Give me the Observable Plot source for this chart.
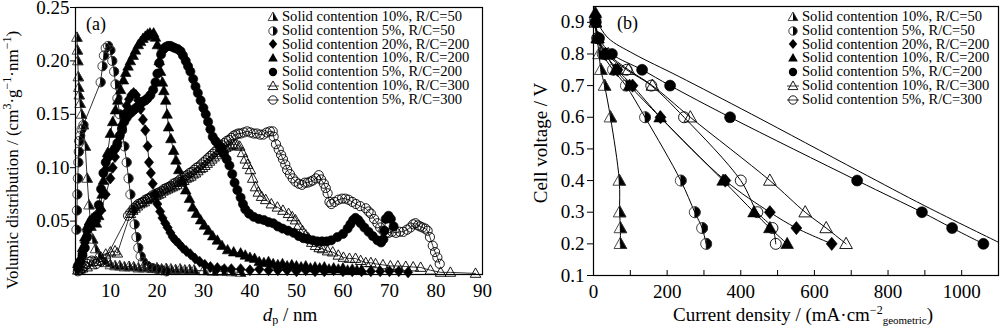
<!DOCTYPE html>
<html>
<head>
<meta charset="utf-8">
<script src="https://cdn.jsdelivr.net/npm/d3@7"></script>
<script src="https://cdn.jsdelivr.net/npm/@observablehq/plot@0.6"></script>
<style>
  html, body { margin: 0; padding: 0; background: #fff; }
  #wrap { position: relative; width: 1000px; height: 326px; overflow: hidden; font-family: "Liberation Serif", "Times New Roman", serif; color: #000; }
  .panel { position: absolute; top: 0; }
  .panel text { font-family: "Liberation Serif", "Times New Roman", serif; }
  .lbl { position: absolute; white-space: nowrap; font-size: 19px; line-height: 1; }
  .lbl sup { font-size: 12px; vertical-align: 7px; }
  .lbl sub { font-size: 12px; vertical-align: -3px; }
  .legend { position: absolute; font-size: 14.6px; line-height: 13.8px; }
  .legend .row { display: flex; align-items: center; height: 13.8px; white-space: nowrap; }
  .legend svg { margin-right: 3px; overflow: visible; }
</style>
</head>
<body>
<div id="wrap"></div>
<script>
// ---------------- DATA ----------------
const seriesNames = [
  "Solid contention 10%, R/C=50",
  "Solid contention 5%, R/C=50",
  "Solid contention 20%, R/C=200",
  "Solid contention 10%, R/C=200",
  "Solid contention 5%, R/C=200",
  "Solid contention 10%, R/C=300",
  "Solid contention 5%, R/C=300"
];

// Panel (a): [dp (nm), volumic distribution]
const distS10RC50 = [[2.8,0.222],[2.9,0.21],[3.0,0.2],[3.1,0.185],[3.2,0.175],[3.3,0.168],[3.5,0.16],[3.8,0.15],[4.2,0.14],[4.6,0.12],[5.0,0.09],[5.4,0.065],[5.8,0.045],[6.2,0.033],[6.8,0.024],[7.5,0.018],[8.3,0.013],[9,0.011],[10,0.009],[11,0.008],[12,0.008],[13,0.007],[14,0.0075],[15,0.007],[16,0.006],[17,0.0065],[18,0.006],[19,0.0055],[20,0.006],[21,0.005],[22,0.0055],[23,0.005],[24,0.0045],[25,0.005],[26,0.004],[27,0.0045],[28,0.004],[30,0.0035],[32,0.003],[34,0.003],[36,0.0025],[38,0.002]];
const distS5RC50 = [[2.7,0.042],[2.8,0.06],[2.9,0.075],[3.0,0.09],[3.1,0.105],[3.2,0.115],[3.3,0.125],[3.5,0.13],[3.8,0.136],[4.2,0.14],[7.9,0.18],[8.3,0.195],[8.6,0.205],[9,0.212],[9.5,0.214],[10,0.21],[10.4,0.2],[10.8,0.19],[11.1,0.178],[11.5,0.165],[12,0.15],[12.5,0.135],[13,0.12],[13.5,0.105],[13.9,0.09],[14.3,0.075],[14.8,0.06],[15.2,0.047],[15.6,0.035],[16,0.025],[16.5,0.017],[17,0.012],[18,0.008],[19,0.006],[20,0.005],[21,0.004],[22,0.003]];
const distS20RC200 = [[3,0.005],[3.5,0.01],[4,0.02],[4.5,0.03],[5,0.04],[5.5,0.045],[6,0.048],[7,0.05],[8,0.06],[9,0.075],[10,0.09],[10.5,0.1],[11,0.11],[11.5,0.12],[12,0.13],[12.5,0.14],[13,0.15],[13.5,0.158],[14,0.164],[14.5,0.168],[15,0.17],[15.5,0.168],[16,0.163],[16.5,0.155],[17,0.145],[17.5,0.135],[18,0.12],[18.3,0.105],[18.7,0.095],[19.1,0.085],[19.6,0.075],[20.1,0.066],[20.7,0.059],[21.2,0.053],[21.8,0.048],[22.3,0.044],[22.9,0.039],[23.4,0.035],[24,0.032],[24.7,0.029],[25.5,0.025],[26.3,0.022],[27.2,0.019],[28.2,0.015],[29.2,0.012],[30.3,0.009],[31.5,0.007],[33,0.006],[34.5,0.005],[36,0.005],[38,0.005],[40,0.004],[42,0.005],[44,0.004],[46,0.004],[48,0.004],[50,0.003],[52,0.004],[54,0.003],[56,0.003],[58,0.004],[60,0.003],[62,0.003],[64,0.003],[66,0.003],[68,0.003],[70,0.003],[72,0.003],[74,0.002]];
const distS10RC200 = [[3,0.01],[3.5,0.015],[4,0.025],[4.5,0.035],[5,0.045],[5.5,0.05],[6,0.052],[6.5,0.05],[7,0.048],[7.5,0.055],[7.9,0.063],[8.2,0.075],[8.5,0.088],[9,0.1],[9.4,0.114],[10,0.132],[10.5,0.143],[11.1,0.154],[11.6,0.163],[12.2,0.173],[12.8,0.182],[13.3,0.189],[13.8,0.195],[14.3,0.2],[14.9,0.205],[15.4,0.21],[16,0.215],[16.5,0.218],[17,0.221],[17.5,0.223],[18,0.225],[18.5,0.226],[19,0.224],[19.3,0.226],[19.7,0.222],[20.1,0.215],[20.5,0.2],[20.8,0.19],[21.2,0.18],[21.5,0.172],[21.9,0.163],[22.2,0.15],[22.5,0.138],[23,0.127],[23.6,0.116],[24.1,0.107],[24.7,0.098],[25.4,0.088],[26.2,0.079],[27,0.071],[27.7,0.063],[28.5,0.057],[29.4,0.051],[30.2,0.046],[31.1,0.041],[32,0.036],[33,0.032],[34,0.027],[35.2,0.023],[36.5,0.021],[38,0.02],[39,0.018],[40,0.016],[41,0.015],[42,0.012],[43,0.011],[44,0.012],[45,0.01],[46,0.009],[47,0.01],[48,0.008],[49,0.009],[50,0.008],[51,0.007],[52,0.008],[53,0.006],[54,0.007],[55,0.006],[56,0.007],[57,0.005],[58,0.006],[59,0.005],[60,0.006],[61,0.004],[62,0.005],[63,0.004],[64,0.004]];
const distS5RC200 = [[3,0.008],[3.5,0.012],[4,0.018],[4.5,0.025],[5,0.035],[5.5,0.045],[6,0.05],[6.5,0.052],[7,0.055],[7.5,0.065],[8,0.08],[8.5,0.095],[9,0.105],[9.5,0.11],[10,0.112],[10.5,0.115],[11,0.118],[11.5,0.123],[12,0.13],[12.5,0.137],[13,0.143],[13.5,0.147],[14,0.15],[14.5,0.152],[15,0.154],[15.5,0.156],[16,0.157],[16.5,0.16],[17,0.162],[17.5,0.163],[18,0.165],[18.6,0.168],[19.2,0.173],[19.7,0.18],[20.1,0.188],[20.5,0.198],[20.9,0.206],[21.4,0.211],[21.9,0.213],[22.4,0.214],[22.9,0.214],[23.4,0.213],[23.9,0.212],[24.5,0.211],[25.1,0.209],[25.6,0.205],[26.2,0.2],[26.7,0.195],[27.2,0.19],[27.8,0.183],[28.3,0.176],[28.8,0.17],[29.4,0.163],[30,0.156],[30.5,0.15],[31,0.143],[31.5,0.136],[32,0.129],[32.6,0.125],[33.2,0.122],[33.8,0.118],[34.4,0.113],[35,0.108],[35.6,0.102],[36.2,0.094],[36.7,0.086],[37.3,0.079],[38,0.072],[38.5,0.066],[39,0.061],[39.8,0.057],[40.8,0.054],[41.9,0.052],[43,0.051],[44,0.049],[45,0.048],[46,0.045],[47,0.043],[48.2,0.041],[49.4,0.039],[50.5,0.036],[51.5,0.034],[52.5,0.033],[53.5,0.032],[54.5,0.031],[55.5,0.031],[56.5,0.031],[57.5,0.032],[58.8,0.035],[60,0.038],[61,0.043],[61.6,0.047],[62.2,0.051],[62.7,0.053],[63.3,0.051],[63.8,0.048],[64.6,0.044],[65.5,0.04],[66.4,0.036],[67.4,0.032],[68.2,0.03],[68.7,0.033],[68.9,0.041],[69.2,0.052],[69.8,0.055],[70.3,0.052],[70.9,0.045]];
const distS10RC300 = [[3,0.004],[3.5,0.005],[4,0.006],[5,0.007],[6,0.009],[7,0.012],[8,0.016],[9,0.019],[10,0.021],[11,0.022],[11.5,0.02],[14.3,0.057],[14.8,0.06],[15.3,0.062],[15.8,0.064],[16.3,0.066],[16.8,0.067],[17.3,0.068],[17.8,0.07],[18.3,0.071],[18.8,0.072],[19.3,0.073],[19.8,0.074],[20.3,0.075],[20.8,0.076],[21.3,0.078],[21.8,0.079],[22.3,0.08],[22.8,0.081],[23.3,0.082],[23.8,0.083],[24.3,0.084],[24.8,0.086],[25.3,0.087],[25.8,0.088],[26.3,0.09],[26.8,0.091],[27.3,0.092],[27.8,0.094],[28.3,0.095],[28.8,0.097],[29.3,0.099],[29.8,0.1],[30.3,0.102],[30.8,0.104],[31.3,0.106],[31.8,0.108],[32.3,0.11],[32.8,0.112],[33.3,0.114],[33.8,0.116],[34.3,0.118],[34.8,0.119],[35.3,0.12],[35.8,0.121],[36.3,0.122],[36.8,0.122],[37.3,0.121],[37.8,0.12],[38.4,0.114],[39,0.108],[39.5,0.103],[40.1,0.098],[40.6,0.09],[41.2,0.082],[41.8,0.077],[42.5,0.073],[43.4,0.07],[44.6,0.066],[45.9,0.063],[47.1,0.06],[48.3,0.057],[49.1,0.054],[49.8,0.051],[50.5,0.046],[51.3,0.041],[52,0.037],[52.6,0.034],[53.3,0.03],[54.1,0.027],[54.9,0.025],[55.6,0.024],[56.7,0.022],[57.8,0.021],[59,0.018],[60.1,0.016],[61.4,0.015],[62.7,0.015],[63.8,0.013],[64.9,0.011],[66,0.011],[67,0.01],[68.6,0.009],[70.2,0.008],[71.8,0.008],[73.5,0.0075],[75.1,0.007],[76.7,0.0066],[78.8,0.004],[81,0.002],[83.1,0.002],[88.5,0.001]];
const distS5RC300 = [[3,0.003],[3.5,0.004],[4,0.006],[4.5,0.008],[5,0.01],[5.5,0.012],[6,0.013],[6.5,0.012],[7,0.01],[8,0.012],[9,0.015],[13.8,0.055],[14.3,0.058],[15,0.062],[15.5,0.064],[16,0.066],[16.5,0.067],[17,0.068],[17.5,0.07],[18,0.071],[18.5,0.072],[19,0.074],[19.5,0.075],[20,0.076],[20.5,0.077],[21,0.078],[21.5,0.08],[22,0.081],[22.5,0.082],[23,0.083],[23.5,0.085],[24,0.086],[24.5,0.087],[25,0.089],[25.5,0.09],[26,0.092],[26.5,0.093],[27,0.095],[27.5,0.096],[28,0.098],[28.5,0.1],[29,0.101],[29.5,0.103],[30,0.105],[30.5,0.107],[31,0.109],[31.5,0.111],[32,0.113],[32.5,0.115],[33,0.117],[33.5,0.119],[34,0.121],[34.5,0.123],[35,0.125],[35.5,0.126],[36,0.128],[36.5,0.13],[37,0.131],[37.5,0.132],[38,0.132],[38.7,0.133],[39.4,0.134],[40.1,0.133],[40.8,0.132],[41.5,0.132],[42.2,0.131],[42.9,0.131],[43.6,0.133],[44.3,0.134],[44.9,0.134],[45.1,0.129],[45.6,0.122],[46.2,0.117],[46.7,0.112],[47.1,0.108],[47.6,0.103],[48,0.098],[48.6,0.094],[49.2,0.09],[49.8,0.087],[50.5,0.085],[51.2,0.084],[51.8,0.086],[52.4,0.086],[53,0.087],[53.5,0.088],[54.2,0.09],[54.8,0.093],[55.3,0.089],[55.9,0.085],[56.3,0.081],[56.7,0.076],[57.1,0.068],[57.5,0.066],[58.2,0.068],[59,0.07],[59.8,0.071],[60.5,0.071],[61.2,0.07],[62,0.068],[62.8,0.066],[63.7,0.064],[64.9,0.062],[65.5,0.059],[66,0.057],[66.7,0.052],[67.4,0.048],[68,0.044],[68.7,0.041],[69.3,0.039],[69.8,0.039],[70.6,0.04],[71.4,0.039],[72.2,0.04],[73,0.04],[73.8,0.042],[74.5,0.044],[75.1,0.047],[75.6,0.048],[76.1,0.046],[76.6,0.045],[77.1,0.044],[77.7,0.043],[78.2,0.041],[78.7,0.035],[79.3,0.027],[79.8,0.021],[80.3,0.016],[80.8,0.01]];

// Panel (b): [current density (mA/cm2), cell voltage (V)]
const polS10RC50 = [[5,0.9],[10,0.85],[15,0.8],[20,0.75],[30,0.7],[46,0.6],[70,0.4],[71,0.3],[73,0.25],[73,0.2]];
const polS5RC50 = [[5,0.9],[12,0.85],[25,0.8],[53,0.75],[88,0.7],[140,0.6],[237,0.4],[275,0.3],[295,0.25],[306,0.2]];
const polS20RC200 = [[6,0.92],[12,0.85],[32,0.8],[65,0.75],[106,0.7],[182,0.6],[358,0.4],[479,0.3],[551,0.25],[647,0.2]];
const polS10RC200 = [[5,0.93],[11,0.85],[33,0.8],[60,0.75],[98,0.7],[181,0.6],[352,0.4],[436,0.3],[479,0.25],[526,0.2]];
const polS5RC200 = [[6,0.9],[15,0.85],[50,0.8],[132,0.75],[208,0.7],[371,0.6],[716,0.4],[892,0.3],[974,0.25],[1059,0.2]];
const polS10RC300 = [[5,0.9],[12,0.85],[40,0.8],[95,0.75],[160,0.7],[263,0.6],[479,0.4],[575,0.3],[632,0.25],[686,0.2]];
const polS5RC300 = [[5,0.91],[10,0.85],[35,0.8],[90,0.75],[157,0.7],[246,0.6],[400,0.4],[445,0.3],[486,0.25],[495,0.2]];
const polExtraCurve = [[10,0.9],[40,0.85],[110,0.8],[230,0.73],[429,0.61],[720,0.43],[900,0.32],[1100,0.205]];

const xTicksA = [10, 20, 30, 40, 50, 60, 70, 80, 90];
const yTicksA = [0.05, 0.10, 0.15, 0.20, 0.25];
const xTicksB = [0, 200, 400, 600, 800, 1000];
const xMinorB = [0, 100, 200, 300, 400, 500, 600, 700, 800, 900, 1000];
const yTicksB = [0.1, 0.2, 0.3, 0.4, 0.5, 0.6, 0.7, 0.8, 0.9];

const distSeries = [distS10RC50, distS5RC50, distS20RC200, distS10RC200, distS5RC200, distS10RC300, distS5RC300];
const polSeries = [polS10RC50, polS5RC50, polS20RC200, polS10RC200, polS5RC200, polS10RC300, polS5RC300];

// ---------------- SYMBOLS ----------------
function sym(f) { return { draw(ctx, size) { f(ctx, Math.sqrt(size / Math.PI)); } }; }
const symCircle = sym((c, r) => { c.moveTo(r, 0); c.arc(0, 0, r, 0, 2 * Math.PI); c.closePath(); });
const symHalfCircle = sym((c, r) => { c.moveTo(0, -r); c.arc(0, 0, r, -Math.PI / 2, Math.PI / 2); c.closePath(); });
const symTri = sym((c, r) => { c.moveTo(0, -1.2 * r); c.lineTo(1.15 * r, 0.85 * r); c.lineTo(-1.15 * r, 0.85 * r); c.closePath(); });
const symHalfTri = sym((c, r) => { c.moveTo(0, -1.2 * r); c.lineTo(1.15 * r, 0.85 * r); c.lineTo(0, 0.85 * r); c.closePath(); });
const symDiamond = sym((c, r) => { c.moveTo(0, -1.2 * r); c.lineTo(r, 0); c.lineTo(0, 1.2 * r); c.lineTo(-r, 0); c.closePath(); });

const styles = [
  { open: symTri, filled: symHalfTri },
  { open: symCircle, filled: symHalfCircle },
  { open: null, filled: symDiamond },
  { open: null, filled: symTri },
  { open: null, filled: symCircle },
  { open: symTri, filled: null },
  { open: symCircle, filled: null }
];

function dotMarks(series, r) {
  const marks = [];
  series.forEach((data, i) => {
    const st = styles[i];
    if (st.filled) marks.push(Plot.dot(data, { x: d => d[0], y: d => d[1], symbol: st.filled, r, fill: "#000", stroke: "#000", strokeWidth: 0.6 }));
    if (st.open) marks.push(Plot.dot(data, { x: d => d[0], y: d => d[1], symbol: st.open, r, fill: "none", stroke: st.filled ? "#333" : "#000", strokeWidth: 0.9 }));
  });
  return marks;
}

const wrap = document.getElementById("wrap");
const serif = "Liberation Serif";
const svgStyle = "font-family: 'Liberation Serif', serif; font-size: 19px; color: #000; background: transparent; overflow: visible;";

// ---------------- PANEL A ----------------
const hA = 326, mtA = 7, mbA = 52;
const plotA = Plot.plot({
  width: 500, height: hA,
  marginLeft: 75, marginRight: 18, marginTop: mtA, marginBottom: mbA,
  style: svgStyle,
  x: { domain: [2.5, 90] },
  y: { domain: [0, 0.25] },
  marks: [
    Plot.axisY(yTicksA, { tickSize: 5, tickPadding: 1, tickFormat: d3.format(".2f"), label: null, fontSize: 19, fontFamily: serif }),
    Plot.axisX(xTicksA, { tickSize: 0, tickPadding: 9, label: null, fontSize: 19, fontFamily: serif }),
    ...distSeries.map(data => Plot.line(data, { x: d => d[0], y: d => d[1], stroke: "#000", strokeWidth: 0.8 })),
    ...dotMarks(distSeries, 4.6),
    Plot.frame({ stroke: "#000", strokeWidth: 1.2 })
  ]
});
plotA.classList.add("panel");
plotA.style.left = "0px";
wrap.appendChild(plotA);

// ---------------- PANEL B ----------------
const hB = 326, mtB = 6, mbB = 51;
const plotB = Plot.plot({
  width: 500, height: hB,
  marginLeft: 93, marginRight: 2, marginTop: mtB, marginBottom: mbB,
  style: svgStyle,
  x: { domain: [0, 1100] },
  y: { domain: [0.1, 0.95] },
  marks: [
    Plot.axisY(yTicksB, { tickSize: 6, tickPadding: 3, tickFormat: d3.format(".1f"), label: null, fontSize: 19, fontFamily: serif }),
    Plot.axisX(xTicksB, { tickSize: 0, tickPadding: 9, tickFormat: d => String(d), label: null, fontSize: 19, fontFamily: serif }),
    Plot.ruleX(xMinorB, { insetTop: hB - mtB - mbB - 5, stroke: "#000" }),
    Plot.line(polExtraCurve, { x: d => d[0], y: d => d[1], curve: "catmull-rom", stroke: "#000", strokeWidth: 1 }),
    ...polSeries.map(data => Plot.line(data, { x: d => d[0], y: d => d[1], curve: "catmull-rom", stroke: "#000", strokeWidth: 1 })),
    ...dotMarks(polSeries, 5.5),
    Plot.frame({ stroke: "#000", strokeWidth: 1.2 })
  ]
});
plotB.classList.add("panel");
plotB.style.left = "500px";
wrap.appendChild(plotB);

// ---------------- LABELS ----------------
function addLabel(html, css) {
  const d = document.createElement("div");
  d.className = "lbl";
  d.innerHTML = html;
  Object.assign(d.style, css);
  wrap.appendChild(d);
  return d;
}
const yla = addLabel("Volumic distribution / (cm<sup>3</sup>·g<sup>−1</sup>·nm<sup>−1</sup>)", { fontSize: "17px" });
yla.style.left = "11px"; yla.style.top = "160px";
yla.style.transform = "translate(-50%, -50%) rotate(-90deg)";
const ylb = addLabel("Cell voltage / V", {});
ylb.style.left = "540px"; ylb.style.top = "143px";
ylb.style.transform = "translate(-50%, -50%) rotate(-90deg)";
const xla = addLabel("<i>d</i><sub>p</sub> / nm", {});
xla.style.left = "290px"; xla.style.top = "315px"; xla.style.transform = "translate(-50%, -50%)";
const xlb = addLabel("Current density / (mA·cm<sup>−2</sup><sub style='font-size:11px'>geometric</sub>)", {});
xlb.style.left = "803px"; xlb.style.top = "315px"; xlb.style.transform = "translate(-50%, -50%)";
addLabel("(a)", { left: "86px", top: "15px", fontSize: "18px" });
addLabel("(b)", { left: "617px", top: "14px", fontSize: "18px" });

// ---------------- LEGENDS ----------------
function legendIcon(i) {
  const st = styles[i];
  const size = Math.PI * 4.2 * 4.2;
  let s = `<svg width="12" height="12" viewBox="-6 -6 12 12">`;
  if (st.open && !st.filled) s += `<line x1="-6" x2="6" y1="0" y2="0" stroke="#000" stroke-width="0.8"/>`;
  if (st.filled) s += `<path d="${d3.symbol(st.filled, size)()}" fill="#000"/>`;
  if (st.open) s += `<path d="${d3.symbol(st.open, size)()}" fill="none" stroke="${st.filled ? '#333' : '#000'}" stroke-width="0.9"/>`;
  return s + `</svg>`;
}
function addLegend(left, top) {
  const lg = document.createElement("div");
  lg.className = "legend";
  lg.style.left = left + "px"; lg.style.top = top + "px";
  lg.innerHTML = seriesNames.map((n, i) => `<div class="row">${legendIcon(i)}<span>${n}</span></div>`).join("");
  wrap.appendChild(lg);
}
addLegend(267, 10);
addLegend(787, 10);
</script>
</body>
</html>
